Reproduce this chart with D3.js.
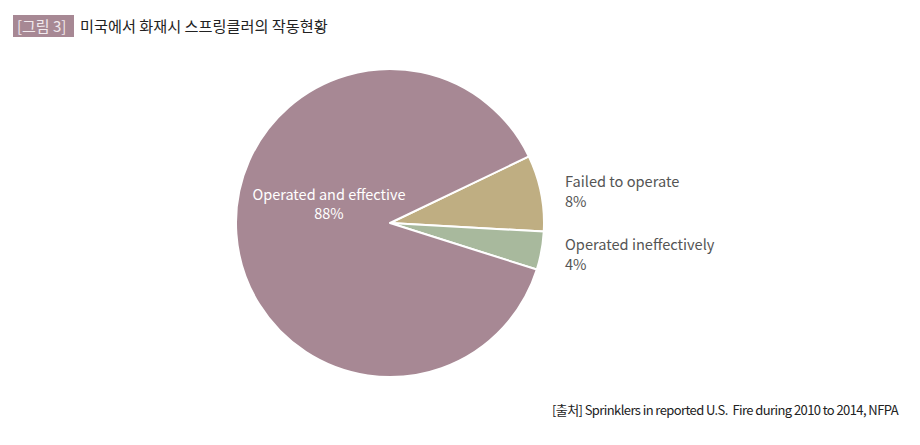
<!DOCTYPE html>
<html>
<head>
<meta charset="utf-8">
<script src="https://cdn.jsdelivr.net/npm/d3@7"></script>
<style>
  body { margin: 0; background: #fff; }
  text { font-family: "Noto Sans CJK KR", "Noto Sans", sans-serif; }
</style>
</head>
<body>
<svg id="chart" width="920" height="445"></svg>
<script>
// slices in drawing order, clockwise from the upper right
var labels = ['Failed to operate', 'Operated ineffectively', 'Operated and effective'];
var values = [8, 4, 88];
var colors = ['#bfae82', '#a8b99d', '#a78894'];

var svg = d3.select('#chart');

// header
svg.append('rect')
    .attr('x', 13).attr('y', 15)
    .attr('width', 61).attr('height', 22)
    .attr('fill', '#a78894');
svg.append('text')
    .attr('x', 17).attr('y', 32)
    .attr('fill', '#f1e9ed')
    .style('font-size', '15px')
    .text('[그림 3]');
svg.append('text')
    .attr('x', 80).attr('y', 32)
    .attr('fill', '#222')
    .style('font-size', '15.2px')
    .text('미국에서 화재시 스프링클러의 작동현황');

var cx = 390, cy = 223, r = 154;
var start = 64.4 * Math.PI / 180;

var pie = d3.pie()
    .sort(null)
    .startAngle(start)
    .endAngle(start + 2 * Math.PI);

var arc = d3.arc().innerRadius(0).outerRadius(r);

var g = svg.append('g').attr('transform', 'translate(' + cx + ',' + cy + ')');

g.selectAll('path')
    .data(pie(values))
    .enter()
    .append('path')
    .attr('d', arc)
    .attr('fill', function(d, i) { return colors[i]; })
    .attr('stroke', '#fff')
    .attr('stroke-width', 2)
    .attr('stroke-linejoin', 'round');

// outside labels for the small slices
var outside = [
    {i: 0, x: 565, y: 187},
    {i: 1, x: 565, y: 250}
];
outside.forEach(function(o) {
    var t = svg.append('text')
        .attr('x', o.x).attr('y', o.y)
        .attr('fill', '#555')
        .style('font-size', '14.6px');
    t.append('tspan').attr('x', o.x).text(labels[o.i]);
    t.append('tspan').attr('x', o.x).attr('dy', 20).text(values[o.i] + '%');
});

// inside label for the big slice
var inner = svg.append('text')
    .attr('x', 329).attr('y', 200)
    .attr('fill', '#fff')
    .attr('text-anchor', 'middle')
    .style('font-size', '14.5px');
inner.append('tspan').attr('x', 329).text(labels[2]);
inner.append('tspan').attr('x', 329).attr('dy', 19).text(values[2] + '%');

// source, squeezed with letter spacing to the reference width
var src = svg.append('text')
    .attr('x', 898).attr('y', 415)
    .attr('text-anchor', 'end')
    .attr('fill', '#222')
    .style('font-size', '13px')
    .style('white-space', 'pre')
    .text('[출처] Sprinklers in reported U.S.  Fire during 2010 to 2014, NFPA');
var txt = src.text();
var w = src.node().getComputedTextLength();
src.style('letter-spacing', ((346 - w) / txt.length) + 'px');
</script>
</body>
</html>
